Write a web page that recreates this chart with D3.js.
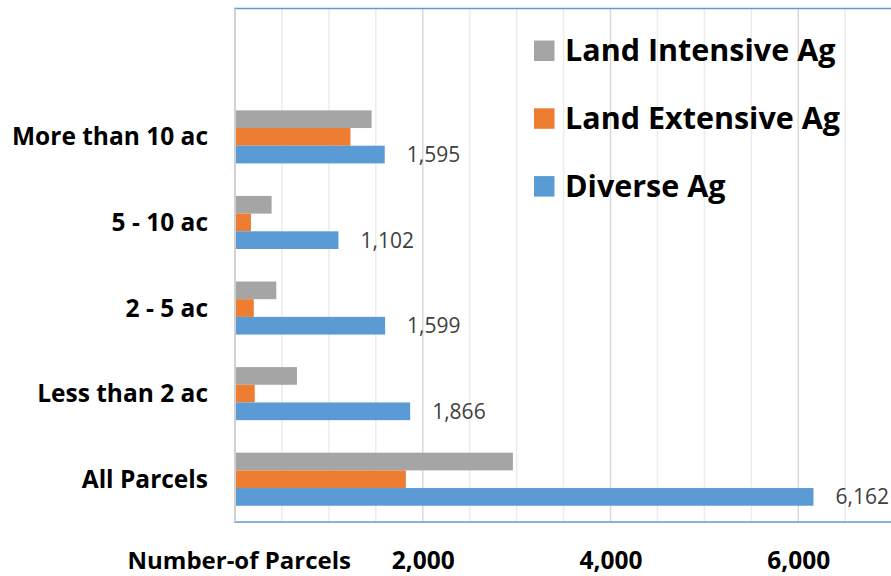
<!DOCTYPE html>
<meta charset="utf-8">
<style>
body { margin: 0; background: #fff; }
svg text { font-family: "Open Sans", sans-serif; }
</style>
<body>
<script src="https://d3js.org/d3.v7.min.js"></script>
<script>
// categories, top to bottom ("" is the empty slot under the legend)
var categories = ["", "More than 10 ac", "5 - 10 ac", "2 - 5 ac", "Less than 2 ac", "All Parcels"];
var seriesNames = ["Land Intensive Ag", "Land Extensive Ag", "Diverse Ag"];
var seriesColors = ["#a5a5a5", "#ed7d31", "#5b9bd5"];

// values per category (same order as categories, skipping the empty slot)
var landIntensive = [1455, 390, 440, 660, 2960];
var landExtensive = [1230, 170, 200, 210, 1820];
var diverse       = [1595, 1102, 1599, 1866, 6162];

var xTicks = [2000, 4000, 6000];
var gridTicks = [500, 1000, 1500, 2000, 2500, 3000, 3500, 4000, 4500, 5000, 5500, 6000, 6500];

var width = 891, height = 576;
var plotLeft = 235, plotTop = 8.5, plotBottom = 522;

var svg = d3.select("body").append("svg")
    .attr("width", width)
    .attr("height", height);

var x = d3.scaleLinear()
    .domain([0, 7000])
    .range([plotLeft, plotLeft + 7000 * 0.09388]);

var y = d3.scaleBand()
    .domain(categories)
    .range([plotTop, plotBottom])
    .paddingInner(0.38)
    .paddingOuter(0.19);

var ySub = d3.scaleBand()
    .domain(seriesNames)
    .range([0, y.bandwidth()]);

// gridlines
svg.selectAll(".grid")
    .data(gridTicks)
  .enter().append("line")
    .attr("class", "grid")
    .attr("x1", function(d) { return x(d); })
    .attr("x2", function(d) { return x(d); })
    .attr("y1", plotTop)
    .attr("y2", plotBottom)
    .style("stroke", function(d) { return d % 2000 == 0 ? "#d9d9d9" : "#ececec"; })
    .style("stroke-width", 1.5);

// top and bottom border lines
svg.selectAll(".border")
    .data([plotTop, plotBottom])
  .enter().append("line")
    .attr("x1", plotLeft - 1)
    .attr("x2", width)
    .attr("y1", function(d) { return d; })
    .attr("y2", function(d) { return d; })
    .style("stroke", "#5b9bd5")
    .style("stroke-width", 1.5);

// rows of data
var rows = categories.slice(1).map(function(c, i) {
  return {cat: c, values: [landIntensive[i], landExtensive[i], diverse[i]]};
});

var groups = svg.selectAll(".group")
    .data(rows)
  .enter().append("g")
    .attr("class", "group")
    .attr("transform", function(d) { return "translate(0," + y(d.cat) + ")"; });

groups.selectAll("rect")
    .data(function(d) { return d.values.map(function(v, i) { return {name: seriesNames[i], value: v, color: seriesColors[i]}; }); })
  .enter().append("rect")
    .attr("x", x(0) + 1)
    .attr("y", function(d) { return ySub(d.name); })
    .attr("width", function(d) { return x(d.value) - x(0) - 1; })
    .attr("height", ySub.bandwidth())
    .style("fill", function(d) { return d.color; });

// data labels on Diverse Ag only
groups.append("text")
    .attr("x", function(d) { return x(d.values[2]) + 22; })
    .attr("y", ySub("Diverse Ag") + ySub.bandwidth() / 2)
    .attr("dy", "0.36em")
    .style("font-size", "21px")
    .style("fill", "#404040")
    .text(function(d) { return d3.format(",")(d.values[2]); });

// left axis
var yAxis = d3.axisLeft(y).tickSize(0).tickPadding(27);
var gy = svg.append("g")
    .attr("transform", "translate(" + plotLeft + ",0)")
    .call(yAxis);
gy.select(".domain")
    .attr("d", "M0," + plotTop + "V" + plotBottom)
    .style("stroke", "#d0d0d0")
    .style("stroke-width", 2);
gy.selectAll("text")
    .style("font-size", "24.5px")
    .style("font-weight", "bold")
    .style("fill", "#000")
    .attr("dy", "0.35em");

// bottom tick labels
var xAxis = d3.axisBottom(x).tickValues(xTicks).tickSize(0).tickFormat(d3.format(","));
var gx = svg.append("g")
    .attr("transform", "translate(0," + plotBottom + ")")
    .call(xAxis);
gx.select(".domain").remove();
gx.selectAll("text")
    .attr("y", 47)
    .attr("dy", 0)
    .style("font-size", "24.5px")
    .style("font-weight", "bold")
    .style("fill", "#000");

svg.append("text")
    .attr("x", 351)
    .attr("y", 569)
    .style("text-anchor", "end")
    .style("font-size", "24px")
    .style("font-weight", "bold")
    .text("Number-of Parcels");

// legend
var legend = svg.selectAll(".legend")
    .data(seriesNames)
  .enter().append("g")
    .attr("class", "legend")
    .attr("transform", function(d, i) { return "translate(534," + (61 + i * 67.8) + ")"; });

legend.append("rect")
    .attr("x", 0)
    .attr("y", -20.5)
    .attr("width", 20.5)
    .attr("height", 20.5)
    .style("fill", function(d, i) { return seriesColors[i]; });

legend.append("text")
    .attr("x", 31)
    .attr("y", 0)
    .style("font-size", "30.5px")
    .style("font-weight", "bold")
    .style("fill", "#000")
    .text(function(d) { return d; });
</script>
